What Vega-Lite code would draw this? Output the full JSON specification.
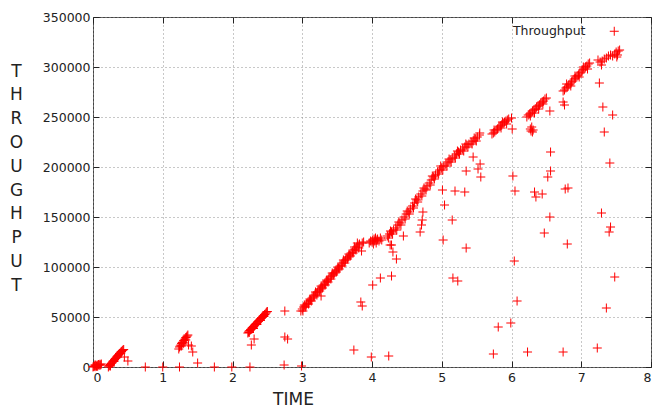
{
  "$schema": "https://vega.github.io/schema/vega-lite/v6.json",
  "width": 558,
  "height": 350,
  "autosize": {"type": "none"},
  "padding": {"left": 93, "top": 17, "right": 3, "bottom": 39},
  "background": "white",
  "config": {
    "font": "DejaVu Sans",
    "view": {"stroke": "#444444", "strokeWidth": 1},
    "axis": {
      "labelFont": "DejaVu Sans",
      "labelFontSize": 12.5,
      "labelColor": "#222222",
      "titleFont": "DejaVu Sans",
      "titleFontSize": 17,
      "titleFontWeight": "normal",
      "titleColor": "#222222",
      "tickColor": "#222222",
      "tickSize": -6,
      "tickWidth": 1,
      "domain": false,
      "grid": true,
      "gridColor": "#909090",
      "gridDash": [1, 3],
      "gridWidth": 1,
      "gridOpacity": 1
    },
    "legend": {
      "orient": "none",
      "legendX": 511,
      "legendY": 4,
      "padding": 4,
      "labelFont": "DejaVu Sans",
      "labelFontSize": 12.5,
      "labelColor": "#222222",
      "symbolType": "M-1,0H1M0,-1V1",
      "symbolSize": 81,
      "symbolStrokeWidth": 1
    }
  },
  "data": {
    "values": [
      {"time": 0.00, "throughput": 0}, {"time": 0.01, "throughput": 500}, {"time": 0.02, "throughput": 1000}, {"time": 0.03, "throughput": 300},
      {"time": 0.04, "throughput": 1500}, {"time": 0.05, "throughput": 800}, {"time": 0.06, "throughput": 2000}, {"time": 0.07, "throughput": 1200},
      {"time": 0.08, "throughput": 2500}, {"time": 0.09, "throughput": 1800}, {"time": 0.10, "throughput": 2800}, {"time": 0.11, "throughput": 2000},
      {"time": 0.12, "throughput": 3000}, {"time": 0.03, "throughput": 2200}, {"time": 0.06, "throughput": 600},
      {"time": 0.22, "throughput": 0}, {"time": 0.23, "throughput": 1000}, {"time": 0.24, "throughput": 1500}, {"time": 0.25, "throughput": 2500},
      {"time": 0.26, "throughput": 3500}, {"time": 0.27, "throughput": 4000}, {"time": 0.28, "throughput": 5000}, {"time": 0.29, "throughput": 6000},
      {"time": 0.30, "throughput": 6500}, {"time": 0.31, "throughput": 7500}, {"time": 0.32, "throughput": 8500}, {"time": 0.33, "throughput": 9000},
      {"time": 0.34, "throughput": 10000}, {"time": 0.35, "throughput": 11000}, {"time": 0.36, "throughput": 11500}, {"time": 0.37, "throughput": 12500},
      {"time": 0.38, "throughput": 13500}, {"time": 0.39, "throughput": 14000}, {"time": 0.40, "throughput": 15000}, {"time": 0.41, "throughput": 15500},
      {"time": 0.42, "throughput": 16500}, {"time": 0.43, "throughput": 17000}, {"time": 0.44, "throughput": 17500}, {"time": 0.25, "throughput": 1000},
      {"time": 0.30, "throughput": 5500}, {"time": 0.35, "throughput": 10000}, {"time": 0.40, "throughput": 14000}, {"time": 0.45, "throughput": 10000},
      {"time": 0.50, "throughput": 6000},
      {"time": 0.75, "throughput": 0}, {"time": 1.00, "throughput": 0}, {"time": 1.24, "throughput": 0}, {"time": 1.50, "throughput": 4000},
      {"time": 1.74, "throughput": 0}, {"time": 1.99, "throughput": 0}, {"time": 2.25, "throughput": 0}, {"time": 2.74, "throughput": 2000},
      {"time": 2.99, "throughput": 1000},
      {"time": 1.23, "throughput": 18000}, {"time": 1.24, "throughput": 20000}, {"time": 1.25, "throughput": 21000}, {"time": 1.26, "throughput": 22000},
      {"time": 1.27, "throughput": 23500}, {"time": 1.28, "throughput": 24500}, {"time": 1.29, "throughput": 25000}, {"time": 1.30, "throughput": 26500},
      {"time": 1.31, "throughput": 27000}, {"time": 1.32, "throughput": 28000}, {"time": 1.33, "throughput": 29500}, {"time": 1.34, "throughput": 30000},
      {"time": 1.35, "throughput": 31000}, {"time": 1.36, "throughput": 32000}, {"time": 1.27, "throughput": 21000}, {"time": 1.30, "throughput": 24000},
      {"time": 1.33, "throughput": 27000}, {"time": 1.37, "throughput": 22000}, {"time": 1.41, "throughput": 21000}, {"time": 1.43, "throughput": 15000},
      {"time": 2.22, "throughput": 34000}, {"time": 2.23, "throughput": 35000}, {"time": 2.24, "throughput": 36000}, {"time": 2.25, "throughput": 36500},
      {"time": 2.26, "throughput": 37500}, {"time": 2.27, "throughput": 38000}, {"time": 2.28, "throughput": 39000}, {"time": 2.29, "throughput": 39500},
      {"time": 2.30, "throughput": 40500}, {"time": 2.31, "throughput": 41000}, {"time": 2.32, "throughput": 42000}, {"time": 2.33, "throughput": 42500},
      {"time": 2.34, "throughput": 43500}, {"time": 2.35, "throughput": 44000}, {"time": 2.36, "throughput": 45000}, {"time": 2.37, "throughput": 45500},
      {"time": 2.38, "throughput": 46500}, {"time": 2.39, "throughput": 47000}, {"time": 2.40, "throughput": 48000}, {"time": 2.41, "throughput": 48500},
      {"time": 2.42, "throughput": 49500}, {"time": 2.43, "throughput": 50000}, {"time": 2.44, "throughput": 51000}, {"time": 2.45, "throughput": 51500},
      {"time": 2.46, "throughput": 52500}, {"time": 2.47, "throughput": 53000}, {"time": 2.48, "throughput": 54000}, {"time": 2.49, "throughput": 55000},
      {"time": 2.50, "throughput": 55500}, {"time": 2.24, "throughput": 34500}, {"time": 2.30, "throughput": 38500}, {"time": 2.35, "throughput": 42500},
      {"time": 2.40, "throughput": 46500}, {"time": 2.45, "throughput": 50500}, {"time": 2.27, "throughput": 22000}, {"time": 2.31, "throughput": 28000},
      {"time": 2.75, "throughput": 56000}, {"time": 2.75, "throughput": 30000}, {"time": 2.79, "throughput": 28000},
      {"time": 2.98, "throughput": 56000}, {"time": 3.00, "throughput": 58000}, {"time": 3.02, "throughput": 60000}, {"time": 3.04, "throughput": 61000},
      {"time": 3.06, "throughput": 63000}, {"time": 3.08, "throughput": 64000}, {"time": 3.10, "throughput": 66000}, {"time": 3.12, "throughput": 67000},
      {"time": 3.14, "throughput": 69000}, {"time": 3.16, "throughput": 71000}, {"time": 3.18, "throughput": 72000}, {"time": 3.20, "throughput": 74000},
      {"time": 3.22, "throughput": 75000}, {"time": 3.24, "throughput": 77000}, {"time": 3.26, "throughput": 78000}, {"time": 3.28, "throughput": 80000},
      {"time": 3.30, "throughput": 82000}, {"time": 3.32, "throughput": 83000}, {"time": 3.34, "throughput": 85000}, {"time": 3.36, "throughput": 86000},
      {"time": 3.38, "throughput": 88000}, {"time": 3.40, "throughput": 90000}, {"time": 3.42, "throughput": 91000}, {"time": 3.44, "throughput": 93000},
      {"time": 3.46, "throughput": 94000}, {"time": 3.48, "throughput": 96000}, {"time": 3.50, "throughput": 97000}, {"time": 3.52, "throughput": 99000},
      {"time": 3.54, "throughput": 101000}, {"time": 3.56, "throughput": 102000}, {"time": 3.58, "throughput": 104000}, {"time": 3.60, "throughput": 106000},
      {"time": 3.62, "throughput": 107000}, {"time": 3.64, "throughput": 109000}, {"time": 3.66, "throughput": 110000}, {"time": 3.68, "throughput": 112000},
      {"time": 3.70, "throughput": 114000}, {"time": 3.72, "throughput": 115000}, {"time": 3.74, "throughput": 117000}, {"time": 3.76, "throughput": 118000},
      {"time": 3.78, "throughput": 120000}, {"time": 3.80, "throughput": 122000}, {"time": 3.82, "throughput": 123000},
      {"time": 3.01, "throughput": 56000}, {"time": 3.05, "throughput": 60000}, {"time": 3.09, "throughput": 63000}, {"time": 3.13, "throughput": 66000},
      {"time": 3.17, "throughput": 70000}, {"time": 3.21, "throughput": 72000}, {"time": 3.25, "throughput": 76000}, {"time": 3.29, "throughput": 79000},
      {"time": 3.33, "throughput": 82000}, {"time": 3.37, "throughput": 85000}, {"time": 3.41, "throughput": 88000}, {"time": 3.45, "throughput": 92000},
      {"time": 3.49, "throughput": 95000}, {"time": 3.53, "throughput": 98000}, {"time": 3.57, "throughput": 101000}, {"time": 3.61, "throughput": 104000},
      {"time": 3.65, "throughput": 108000}, {"time": 3.69, "throughput": 111000}, {"time": 3.73, "throughput": 114000}, {"time": 3.77, "throughput": 117000},
      {"time": 3.81, "throughput": 119000},
      {"time": 3.03, "throughput": 62000}, {"time": 3.11, "throughput": 68000}, {"time": 3.19, "throughput": 75000}, {"time": 3.27, "throughput": 81000},
      {"time": 3.35, "throughput": 87000}, {"time": 3.43, "throughput": 94000}, {"time": 3.51, "throughput": 100000}, {"time": 3.59, "throughput": 107000},
      {"time": 3.67, "throughput": 113000}, {"time": 3.75, "throughput": 120000}, {"time": 3.79, "throughput": 124000},
      {"time": 3.27, "throughput": 71000}, {"time": 3.85, "throughput": 116000}, {"time": 3.86, "throughput": 124000}, {"time": 3.88, "throughput": 125000},
      {"time": 3.96, "throughput": 124000}, {"time": 3.98, "throughput": 126000}, {"time": 4.00, "throughput": 125000}, {"time": 4.01, "throughput": 127000},
      {"time": 4.03, "throughput": 128000}, {"time": 4.04, "throughput": 126000}, {"time": 4.05, "throughput": 129000}, {"time": 4.07, "throughput": 127000},
      {"time": 4.08, "throughput": 128000}, {"time": 4.10, "throughput": 126000}, {"time": 4.12, "throughput": 129000}, {"time": 4.14, "throughput": 127000},
      {"time": 4.02, "throughput": 123000}, {"time": 4.06, "throughput": 124000},
      {"time": 4.26, "throughput": 122000}, {"time": 4.30, "throughput": 115000}, {"time": 4.35, "throughput": 108000}, {"time": 4.01, "throughput": 82000},
      {"time": 4.12, "throughput": 89000}, {"time": 4.28, "throughput": 91000}, {"time": 3.84, "throughput": 65000}, {"time": 3.86, "throughput": 61000},
      {"time": 3.74, "throughput": 17000}, {"time": 3.99, "throughput": 10000}, {"time": 4.24, "throughput": 11000},
      {"time": 4.22, "throughput": 131000}, {"time": 4.25, "throughput": 133000}, {"time": 4.28, "throughput": 135000}, {"time": 4.31, "throughput": 137000},
      {"time": 4.34, "throughput": 139000}, {"time": 4.37, "throughput": 142000}, {"time": 4.40, "throughput": 144000}, {"time": 4.43, "throughput": 147000},
      {"time": 4.46, "throughput": 150000}, {"time": 4.49, "throughput": 153000}, {"time": 4.52, "throughput": 155000}, {"time": 4.55, "throughput": 158000},
      {"time": 4.58, "throughput": 161000}, {"time": 4.61, "throughput": 164000}, {"time": 4.64, "throughput": 167000}, {"time": 4.67, "throughput": 170000},
      {"time": 4.70, "throughput": 173000}, {"time": 4.73, "throughput": 176000}, {"time": 4.76, "throughput": 178000}, {"time": 4.79, "throughput": 181000},
      {"time": 4.82, "throughput": 184000}, {"time": 4.85, "throughput": 187000}, {"time": 4.88, "throughput": 190000}, {"time": 4.91, "throughput": 192000},
      {"time": 4.94, "throughput": 195000}, {"time": 4.97, "throughput": 197000}, {"time": 5.00, "throughput": 199000}, {"time": 5.03, "throughput": 201000},
      {"time": 5.06, "throughput": 203000}, {"time": 5.09, "throughput": 205000}, {"time": 5.12, "throughput": 207000}, {"time": 5.15, "throughput": 209000},
      {"time": 5.18, "throughput": 211000}, {"time": 5.21, "throughput": 213000}, {"time": 5.24, "throughput": 215000}, {"time": 5.27, "throughput": 217000},
      {"time": 5.30, "throughput": 218000}, {"time": 5.33, "throughput": 220000}, {"time": 5.36, "throughput": 222000}, {"time": 5.39, "throughput": 223000},
      {"time": 5.42, "throughput": 225000}, {"time": 5.45, "throughput": 226000}, {"time": 5.48, "throughput": 228000}, {"time": 5.51, "throughput": 230000},
      {"time": 5.54, "throughput": 232000},
      {"time": 4.235, "throughput": 129000}, {"time": 4.295, "throughput": 133000}, {"time": 4.355, "throughput": 137000}, {"time": 4.415, "throughput": 142000},
      {"time": 4.475, "throughput": 148000}, {"time": 4.535, "throughput": 153000}, {"time": 4.595, "throughput": 159000}, {"time": 4.655, "throughput": 165000},
      {"time": 4.715, "throughput": 171000}, {"time": 4.775, "throughput": 177000}, {"time": 4.835, "throughput": 182000}, {"time": 4.895, "throughput": 188000},
      {"time": 4.955, "throughput": 193000}, {"time": 5.015, "throughput": 197000}, {"time": 5.075, "throughput": 201000}, {"time": 5.135, "throughput": 205000},
      {"time": 5.195, "throughput": 209000}, {"time": 5.255, "throughput": 213000}, {"time": 5.315, "throughput": 216000}, {"time": 5.375, "throughput": 220000},
      {"time": 5.435, "throughput": 223000}, {"time": 5.495, "throughput": 226000},
      {"time": 4.265, "throughput": 136000}, {"time": 4.385, "throughput": 145000}, {"time": 4.505, "throughput": 156000}, {"time": 4.625, "throughput": 168000},
      {"time": 4.745, "throughput": 179000}, {"time": 4.865, "throughput": 191000}, {"time": 4.985, "throughput": 201000}, {"time": 5.105, "throughput": 208000},
      {"time": 5.225, "throughput": 216000}, {"time": 5.345, "throughput": 223000}, {"time": 5.465, "throughput": 229000}, {"time": 5.545, "throughput": 234000},
      {"time": 5.72, "throughput": 233000}, {"time": 5.74, "throughput": 234000}, {"time": 5.76, "throughput": 235000}, {"time": 5.78, "throughput": 237000},
      {"time": 5.80, "throughput": 238000}, {"time": 5.82, "throughput": 240000}, {"time": 5.84, "throughput": 241000}, {"time": 5.86, "throughput": 242000},
      {"time": 5.88, "throughput": 244000}, {"time": 5.90, "throughput": 245000}, {"time": 5.92, "throughput": 246000}, {"time": 5.94, "throughput": 247000},
      {"time": 5.96, "throughput": 248000}, {"time": 5.75, "throughput": 237000}, {"time": 5.85, "throughput": 239000}, {"time": 5.87, "throughput": 245000},
      {"time": 5.93, "throughput": 243000}, {"time": 6.00, "throughput": 249000}, {"time": 6.01, "throughput": 238000},
      {"time": 6.22, "throughput": 250000}, {"time": 6.24, "throughput": 252000}, {"time": 6.26, "throughput": 253000}, {"time": 6.28, "throughput": 254000},
      {"time": 6.30, "throughput": 256000}, {"time": 6.32, "throughput": 257000}, {"time": 6.34, "throughput": 258000}, {"time": 6.36, "throughput": 260000},
      {"time": 6.38, "throughput": 261000}, {"time": 6.40, "throughput": 262000}, {"time": 6.42, "throughput": 264000}, {"time": 6.44, "throughput": 265000},
      {"time": 6.46, "throughput": 266000}, {"time": 6.48, "throughput": 268000}, {"time": 6.50, "throughput": 269000}, {"time": 6.27, "throughput": 251000},
      {"time": 6.33, "throughput": 254000}, {"time": 6.39, "throughput": 258000}, {"time": 6.45, "throughput": 263000},
      {"time": 6.27, "throughput": 238000}, {"time": 6.29, "throughput": 240000}, {"time": 6.30, "throughput": 235000}, {"time": 6.31, "throughput": 237000},
      {"time": 6.28, "throughput": 236000}, {"time": 6.55, "throughput": 256000},
      {"time": 6.74, "throughput": 276000}, {"time": 6.76, "throughput": 277000}, {"time": 6.78, "throughput": 279000}, {"time": 6.80, "throughput": 280000},
      {"time": 6.82, "throughput": 282000}, {"time": 6.84, "throughput": 283000}, {"time": 6.86, "throughput": 285000}, {"time": 6.88, "throughput": 286000},
      {"time": 6.90, "throughput": 288000}, {"time": 6.92, "throughput": 289000}, {"time": 6.94, "throughput": 291000}, {"time": 6.96, "throughput": 292000},
      {"time": 6.98, "throughput": 294000}, {"time": 7.00, "throughput": 295000}, {"time": 7.02, "throughput": 297000}, {"time": 7.04, "throughput": 298000},
      {"time": 7.06, "throughput": 300000}, {"time": 7.08, "throughput": 301000}, {"time": 7.10, "throughput": 303000}, {"time": 7.12, "throughput": 304000},
      {"time": 6.79, "throughput": 283000}, {"time": 6.85, "throughput": 281000}, {"time": 6.91, "throughput": 291000}, {"time": 6.97, "throughput": 290000},
      {"time": 7.03, "throughput": 300000}, {"time": 7.09, "throughput": 298000}, {"time": 6.74, "throughput": 265000}, {"time": 6.76, "throughput": 262000},
      {"time": 7.24, "throughput": 307000}, {"time": 7.27, "throughput": 305000}, {"time": 7.30, "throughput": 306000}, {"time": 7.33, "throughput": 308000},
      {"time": 7.36, "throughput": 309000}, {"time": 7.39, "throughput": 311000}, {"time": 7.42, "throughput": 312000}, {"time": 7.45, "throughput": 311000},
      {"time": 7.48, "throughput": 313000}, {"time": 7.50, "throughput": 315000}, {"time": 7.52, "throughput": 312000}, {"time": 7.53, "throughput": 316000},
      {"time": 7.55, "throughput": 317000}, {"time": 7.51, "throughput": 310000},
      {"time": 7.29, "throughput": 302000}, {"time": 7.26, "throughput": 284000}, {"time": 7.31, "throughput": 260000}, {"time": 7.45, "throughput": 252000},
      {"time": 7.33, "throughput": 235000}, {"time": 7.41, "throughput": 204000}, {"time": 7.29, "throughput": 154000}, {"time": 7.42, "throughput": 140000},
      {"time": 7.40, "throughput": 135000}, {"time": 7.48, "throughput": 90000}, {"time": 7.36, "throughput": 59000}, {"time": 7.23, "throughput": 19000},
      {"time": 5.16, "throughput": 89000}, {"time": 5.23, "throughput": 86000}, {"time": 6.08, "throughput": 66000}, {"time": 5.81, "throughput": 40000},
      {"time": 5.99, "throughput": 44000}, {"time": 5.74, "throughput": 13000}, {"time": 6.23, "throughput": 15000}, {"time": 6.74, "throughput": 15000},
      {"time": 5.35, "throughput": 119000}, {"time": 5.02, "throughput": 127000}, {"time": 5.15, "throughput": 147000}, {"time": 5.04, "throughput": 162000},
      {"time": 5.01, "throughput": 177000}, {"time": 5.19, "throughput": 176000}, {"time": 5.33, "throughput": 175000}, {"time": 5.35, "throughput": 196000},
      {"time": 5.52, "throughput": 198000}, {"time": 5.56, "throughput": 190000}, {"time": 5.55, "throughput": 203000}, {"time": 5.45, "throughput": 210000},
      {"time": 6.02, "throughput": 191000}, {"time": 6.05, "throughput": 176000}, {"time": 6.04, "throughput": 106000}, {"time": 6.56, "throughput": 215000},
      {"time": 6.56, "throughput": 196000}, {"time": 6.52, "throughput": 190000}, {"time": 6.33, "throughput": 175000}, {"time": 6.35, "throughput": 170000},
      {"time": 6.44, "throughput": 173000}, {"time": 6.77, "throughput": 178000}, {"time": 6.81, "throughput": 179000}, {"time": 6.55, "throughput": 150000},
      {"time": 6.47, "throughput": 134000}, {"time": 6.80, "throughput": 123000}, {"time": 4.45, "throughput": 131000}, {"time": 4.69, "throughput": 135000},
      {"time": 4.71, "throughput": 142000}, {"time": 4.72, "throughput": 147000}, {"time": 4.73, "throughput": 155000}, {"time": 4.28, "throughput": 122000}
    ]
  },
  "layer": [
    {
      "mark": {"type": "point", "shape": "M-1,0H1M0,-1V1", "filled": false, "size": 81, "strokeWidth": 1, "opacity": 1},
      "encoding": {
        "x": {
          "field": "time", "type": "quantitative",
          "scale": {"domain": [0, 8], "nice": false, "zero": false},
          "axis": {"orient": "bottom", "values": [0, 1, 2, 3, 4, 5, 6, 7, 8], "labelPadding": 10, "title": "TIME", "titleAlign": "center", "titleBaseline": "top", "titleX": 200, "titleY": 24}
        },
        "y": {
          "field": "throughput", "type": "quantitative",
          "scale": {"domain": [0, 350000], "nice": false},
          "axis": {"orient": "left", "values": [0, 50000, 100000, 150000, 200000, 250000, 300000, 350000], "format": "d", "labelPadding": 9,
            "title": ["T", "H", "R", "O", "U", "G", "H", "P", "U", "T"], "titleAngle": 0, "titleAlign": "center", "titleBaseline": "middle",
            "titleLineHeight": 23.8, "titleX": -77, "titleY": 54}
        },
        "color": {
          "datum": "Throughput", "type": "nominal",
          "scale": {"range": ["#ff0000"]},
          "legend": {"title": null, "labelAlign": "right", "labelOffset": -35}
        }
      }
    },
    {
      "mark": {"type": "point", "opacity": 0},
      "encoding": {
        "x": {
          "field": "time", "type": "quantitative",
          "axis": {"orient": "top", "values": [0, 1, 2, 3, 4, 5, 6, 7, 8], "labels": false, "grid": false, "title": null}
        },
        "y": {
          "field": "throughput", "type": "quantitative",
          "axis": {"orient": "right", "values": [0, 50000, 100000, 150000, 200000, 250000, 300000, 350000], "labels": false, "grid": false, "title": null}
        }
      }
    }
  ],
  "resolve": {"axis": {"x": "independent", "y": "independent"}}
}
